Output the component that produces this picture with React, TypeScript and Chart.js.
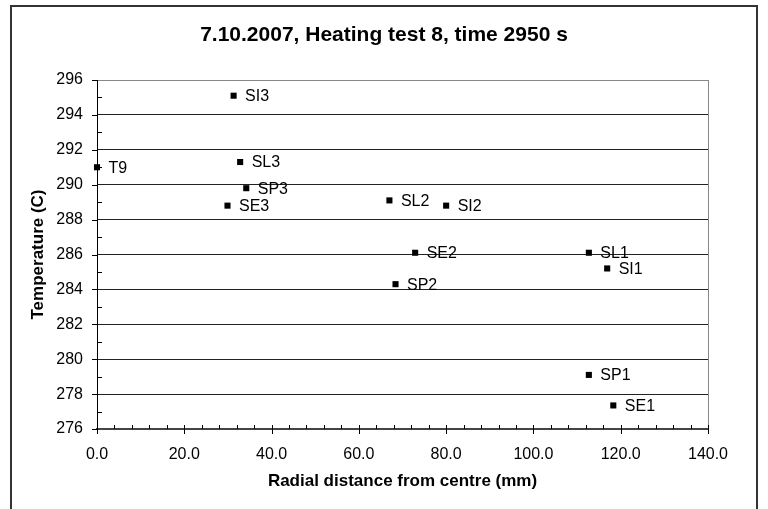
import React, { useEffect, useRef } from 'react';
import { Chart, registerables } from 'chart.js';

Chart.register(...registerables);

const pointLabels = ['T9', 'SI3', 'SL3', 'SP3', 'SE3', 'SL2', 'SI2', 'SE2', 'SP2', 'SL1', 'SI1', 'SP1', 'SE1'];
const radialDistance = [0, 31.3, 32.8, 34.2, 29.9, 67.0, 80.0, 72.9, 68.4, 112.7, 116.9, 112.7, 118.3];
const temperature = [291.0, 295.1, 291.3, 289.8, 288.8, 289.1, 288.8, 286.1, 284.3, 286.1, 285.2, 279.1, 277.35];

const titleText = '7.10.2007, Heating test 8, time 2950 s';
const xTitle = 'Radial distance from centre (mm)';
const yTitle = 'Temperature (C)';

const xMin = 0;
const xMax = 140;
const xStep = 20;
const xMinorStep = 4;
const yMin = 276;
const yMax = 296;
const yStep = 2;
const yMinorStep = 1;

const FONT = '"Liberation Sans", Arial, Helvetica, sans-serif';

export default function App() {
  const ref = useRef<HTMLCanvasElement>(null);

  useEffect(() => {
    const canvas = ref.current;
    if (!canvas) return;

    const bgPlugin = {
      id: 'bgFrame',
      beforeDraw(chart: any) {
        const { ctx, width, height } = chart;
        ctx.save();
        ctx.fillStyle = '#fff';
        ctx.fillRect(0, 0, width, height);
        ctx.strokeStyle = '#333';
        ctx.lineWidth = 2;
        ctx.strokeRect(11, 6, 746, height + 20);
        ctx.restore();
      },
    };

    const tickPlugin = {
      id: 'axisTicks',
      beforeDatasetsDraw(chart: any) {
        const { ctx, scales, chartArea } = chart;
        const xs = scales.x;
        const ys = scales.y;
        ctx.save();
        ctx.strokeStyle = '#000';
        ctx.lineWidth = 1;
        ctx.beginPath();
        for (let v = yMin; v <= yMax + 1e-9; v += yMinorStep) {
          const py = Math.round(ys.getPixelForValue(v)) + 0.5;
          const major = Math.abs((v - yMin) % yStep) < 1e-9;
          if (major) {
            ctx.moveTo(chartArea.left - 5, py);
            ctx.lineTo(chartArea.left, py);
          } else {
            ctx.moveTo(chartArea.left, py);
            ctx.lineTo(chartArea.left + 5, py);
          }
        }
        for (let v = xMin; v <= xMax + 1e-9; v += xMinorStep) {
          const px = Math.round(xs.getPixelForValue(v)) + 0.5;
          const major = Math.abs((v - xMin) % xStep) < 1e-9;
          if (major) {
            ctx.moveTo(px, chartArea.bottom - 4);
            ctx.lineTo(px, chartArea.bottom + 5);
          } else {
            ctx.moveTo(px, chartArea.bottom - 4);
            ctx.lineTo(px, chartArea.bottom);
          }
        }
        ctx.stroke();
        ctx.restore();
      },
    };

    const labelPlugin = {
      id: 'pointLabels',
      afterDatasetsDraw(chart: any) {
        const { ctx } = chart;
        const meta = chart.getDatasetMeta(0);
        ctx.save();
        ctx.fillStyle = '#000';
        ctx.font = `16px ${FONT}`;
        ctx.textAlign = 'left';
        ctx.textBaseline = 'middle';
        meta.data.forEach((el: any, i: number) => {
          ctx.fillText(pointLabels[i], el.x + 11.5, el.y + 1);
        });
        ctx.restore();
      },
    };

    const chart = new Chart(canvas, {
      type: 'scatter',
      data: {
        datasets: [
          {
            data: radialDistance.map((x, i) => ({ x, y: temperature[i] })),
            pointStyle: 'rect',
            pointRadius: 4.3,
            backgroundColor: '#000',
            borderColor: '#000',
            borderWidth: 0,
            clip: false as any,
          },
        ],
      },
      options: {
        responsive: false,
        animation: false,
        devicePixelRatio: 1,
        layout: { padding: { left: 0, right: 0, top: 0, bottom: 0 } },
        plugins: {
          legend: { display: false },
          tooltip: { enabled: false },
          title: {
            display: true,
            text: titleText,
            color: '#000',
            font: { family: FONT, size: 21, weight: 'bold' },
            padding: { top: 23, bottom: 31.8 },
          },
        },
        scales: {
          x: {
            type: 'linear',
            min: xMin,
            max: xMax,
            afterFit: (s: any) => {
              s.height = 80;
            },
            ticks: {
              stepSize: xStep,
              color: '#000',
              font: { family: FONT, size: 16 },
              padding: 16,
              maxRotation: 0,
              autoSkip: false,
              callback: (v: any) => Number(v).toFixed(1),
            },
            grid: {
              drawTicks: false,
              color: (c: any) => (c.tick && c.tick.value === xMax ? '#888' : 'rgba(0,0,0,0)'),
              lineWidth: 1,
            },
            border: { display: true, color: '#444', width: 2 },
            title: {
              display: true,
              text: xTitle,
              color: '#000',
              font: { family: FONT, size: 17, weight: 'bold' },
              padding: { top: 0, bottom: 17 },
            },
          },
          y: {
            type: 'linear',
            min: yMin,
            max: yMax,
            afterFit: (s: any) => {
              s.width = 97;
            },
            ticks: {
              stepSize: yStep,
              color: '#000',
              font: { family: FONT, size: 16 },
              padding: 14,
            },
            grid: {
              drawTicks: false,
              color: (c: any) => (c.tick && c.tick.value === yMax ? '#888' : '#222'),
              lineWidth: 1,
            },
            border: { display: true, color: '#000', width: 1 },
            title: {
              display: true,
              text: yTitle,
              color: '#000',
              font: { family: FONT, size: 17, weight: 'bold' },
              padding: { top: 28, bottom: 0 },
            },
          },
          spacer: {
            type: 'linear',
            position: 'right',
            display: true,
            afterFit: (s: any) => {
              s.width = 60;
            },
            ticks: { display: false },
            grid: { display: false, drawTicks: false },
            border: { display: false },
            title: { display: false },
          },
        },
      } as any,
      plugins: [bgPlugin, tickPlugin, labelPlugin],
    });

    return () => chart.destroy();
  }, []);

  return (
    <div style={{ position: 'absolute', left: 0, top: 0, width: 768, height: 509, background: '#fff' }}>
      <canvas ref={ref} width={768} height={509} style={{ display: 'block', width: 768, height: 509 }} />
    </div>
  );
}
